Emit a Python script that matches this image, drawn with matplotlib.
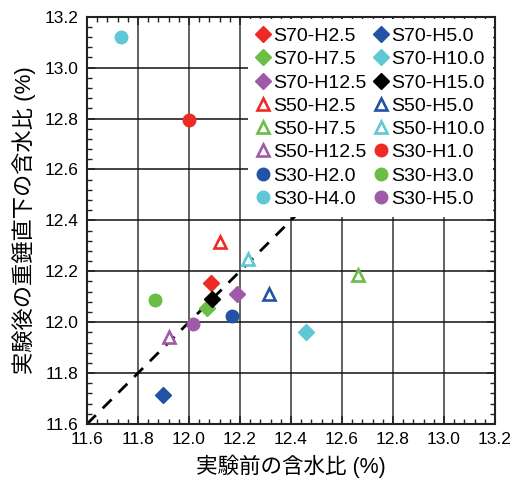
import matplotlib
matplotlib.use("Agg")
import matplotlib.pyplot as plt
from matplotlib.ticker import MultipleLocator, FormatStrFormatter

plt.rcParams['font.family'] = ['Liberation Sans', 'Noto Sans CJK JP', 'DejaVu Sans']

# series: label, x (before), y (after)
labels = ["S70-H2.5", "S70-H5.0", "S70-H7.5", "S70-H10.0",
          "S70-H12.5", "S70-H15.0", "S50-H2.5", "S50-H5.0",
          "S50-H7.5", "S50-H10.0", "S50-H12.5", "S30-H1.0",
          "S30-H2.0", "S30-H3.0", "S30-H4.0", "S30-H5.0"]
x_before = [12.088, 11.897, 12.072, 12.460,
            12.190, 12.090, 12.120, 12.312,
            12.664, 12.231, 11.922, 12.000,
            12.169, 11.868, 11.733, 12.014]
y_after = [12.154, 11.712, 12.056, 11.962,
           12.112, 12.091, 12.315, 12.112,
           12.184, 12.250, 11.942, 12.795,
           12.024, 12.089, 13.120, 11.993]

RED = '#ee2a24'
BLUE = '#2353a4'
GREEN = '#6abd45'
CYAN = '#5ec8d4'
PURPLE = '#a05ba8'
BLACK = '#000000'
colors = [RED, BLUE, GREEN, CYAN, PURPLE, BLACK,
          RED, BLUE, GREEN, CYAN, PURPLE, RED,
          BLUE, GREEN, CYAN, PURPLE]
markers = ['D'] * 6 + ['^'] * 5 + ['o'] * 5

fig = plt.figure(figsize=(5.19, 4.86), dpi=100)
ax = fig.add_axes([0.1676, 0.1276, 0.786, 0.838])

lims = [11.6, 13.2]
ax.plot(lims, lims, color='black', ls=(0, (4.5, 3.5)), lw=2, zorder=2)

handles = []
for lab, xv, yv, c, m in zip(labels, x_before, y_after, colors, markers):
    if m == '^':
        h, = ax.plot(xv, yv, ls='none', marker=m, ms=9, mfc='white', mec=c,
                     mew=1.9, label=lab, zorder=3)
    elif m == 'D':
        h, = ax.plot(xv, yv, ls='none', marker=m, ms=8, mfc=c, mec=c,
                     label=lab, zorder=3)
    else:
        h, = ax.plot(xv, yv, ls='none', marker=m, ms=9, mfc=c, mec=c,
                     label=lab, zorder=3)
    handles.append(h)

ax.set_xlim(lims)
ax.set_ylim(lims)
ax.xaxis.set_major_locator(MultipleLocator(0.2))
ax.yaxis.set_major_locator(MultipleLocator(0.2))
ax.xaxis.set_minor_locator(MultipleLocator(0.04))
ax.yaxis.set_minor_locator(MultipleLocator(0.04))
ax.xaxis.set_major_formatter(FormatStrFormatter('%.1f'))
ax.yaxis.set_major_formatter(FormatStrFormatter('%.1f'))
ax.tick_params(which='both', direction='in', top=True, right=True,
               labelsize=12.5, color='#222222')
ax.tick_params(which='major', length=6, width=1.2, pad=6)
ax.tick_params(which='minor', length=3.5, width=1)
for s in ax.spines.values():
    s.set_linewidth(1.5)
    s.set_color('#222222')

ax.grid(True, which='major', axis='x', color='#555555', lw=1.3, zorder=1)
ax.grid(True, which='major', axis='y', color='#111111', lw=1.1, zorder=1)
ax.set_axisbelow(True)

ax.set_xlabel('実験前の含水比 (%)', fontsize=15.5, labelpad=5)
ax.set_ylabel('実験後の重錘直下の含水比 (%)', fontsize=16, labelpad=6)

# legend is filled row by row in the original
order = list(range(0, 16, 2)) + list(range(1, 16, 2))
leg = ax.legend([handles[i] for i in order], [labels[i] for i in order],
                ncol=2, loc='upper right', fontsize=14, frameon=True,
                framealpha=1, edgecolor='none', facecolor='white',
                borderaxespad=0.1, handlelength=0.7, handletextpad=0.15,
                columnspacing=0.4, labelspacing=0.29, borderpad=0.45,
                fancybox=False)
leg.set_zorder(5)

fig.savefig('out.png', dpi=100)
